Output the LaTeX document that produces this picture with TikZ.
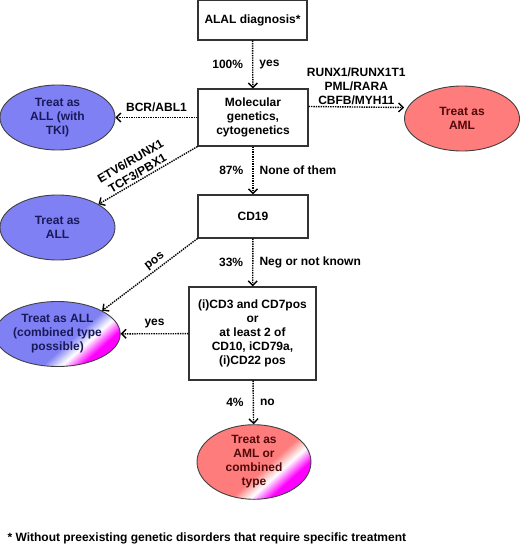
\documentclass[tikz,border=0pt]{standalone}
\usepackage{fontspec}
\setmainfont{Liberation Sans}
\usepackage{tikz}
\usetikzlibrary{shapes.geometric,arrows.meta}
\definecolor{allblue}{RGB}{128,128,245}
\definecolor{amlred}{RGB}{255,124,124}
\definecolor{allink}{RGB}{25,25,90}
\definecolor{amlink}{RGB}{80,10,10}
\pgfdeclarehorizontalshading{allshade}{100bp}{color(0bp)=(allblue); color(57bp)=(allblue); color(64bp)=(white); color(71bp)=(magenta); color(100bp)=(magenta)}
\pgfdeclarehorizontalshading{amlshade}{100bp}{color(0bp)=(amlred); color(56bp)=(amlred); color(63bp)=(white); color(70bp)=(magenta); color(100bp)=(magenta)}

\begin{document}
\begin{tikzpicture}[x=1pt,y=-1pt,
  font=\fontsize{12}{14}\selectfont\bfseries,
  box/.style={draw=black!80, line width=1.1pt, align=center, inner sep=0pt},
  treat/.style={ellipse, draw=black!75, line width=0.9pt, align=center, inner sep=0pt, minimum width=115pt, minimum height=65pt},
  flow/.style={densely dotted, line width=1.4pt, -{Straight Barb[length=4.5pt,width=9pt]}},
  lbl/.style={inner sep=2pt}]
\useasboundingbox (0,0) rectangle (520,545);
\node[box, minimum width=109pt, minimum height=40pt] (alal) at (252.5,20) {ALAL diagnosis*};
\node[box, minimum width=110pt, minimum height=57pt] (mol) at (253,117.5) {Molecular\\genetics,\\cytogenetics};
\node[box, minimum width=110pt, minimum height=43pt] (cd19) at (253,216.5) {CD19};
\node[box, minimum width=127pt, minimum height=93pt] (immuno) at (252.5,333.5) {(i)CD3 and CD7pos\\or\\at least 2 of\\CD10, iCD79a,\\(i)CD22 pos};
\node[treat, fill=allblue, text=allink] (alltki) at (57.5,117.5) {Treat as\\ALL (with\\TKI)};
\node[treat, fill=amlred, text=amlink] (aml) at (462,118.5) {Treat as\\AML};
\node[treat, fill=allblue, text=allink] (all) at (57.5,227.5) {Treat as\\ALL};
\node[treat, shade, shading=allshade, shading angle=-48, text=allink] (allcomb) at (57.5,334) {Treat as ALL\\(combined type\\possible)};
\node[treat, shade, shading=amlshade, shading angle=-48, text=amlink, minimum width=114pt, minimum height=66pt] (amlcomb) at (254,462) {Treat as\\AML or\\combined\\type};
\draw[flow] (alal) -- node[lbl, left=7pt]{100\%} node[lbl, right=4pt]{yes} (mol);
\draw[flow] (mol) -- node[lbl, above=3pt]{BCR/ABL1} (alltki);
\draw[flow] ([yshift=11pt]mol.east) -- node[lbl, above, align=center]{RUNX1/RUNX1T1\\PML/RARA\\CBFB/MYH11} ([yshift=11pt]aml.west);
\draw[flow] (mol.south west) -- node[lbl, pos=0.57, above, sloped, align=center]{ETV6/RUNX1\\TCF3/PBX1} (all.north east);
\draw[flow] (mol) -- node[lbl, left=7pt]{87\%} node[lbl, right=4pt]{None of them} (cd19);
\draw[flow] (cd19.south west) -- node[lbl, pos=0.4, above, sloped]{pos} (allcomb.north east);
\draw[flow] (cd19) -- node[lbl, left=7pt]{33\%} node[lbl, right=4pt]{Neg or not known} (immuno);
\draw[flow] (immuno) -- node[lbl, above=3pt]{yes} (allcomb);
\draw[flow] (immuno) -- node[lbl, left=7pt]{4\%} node[lbl, right=4pt]{no} (amlcomb);
\node[anchor=west] (note) at (4,538) {* Without preexisting genetic disorders that require specific treatment};
\end{tikzpicture}
\end{document}
